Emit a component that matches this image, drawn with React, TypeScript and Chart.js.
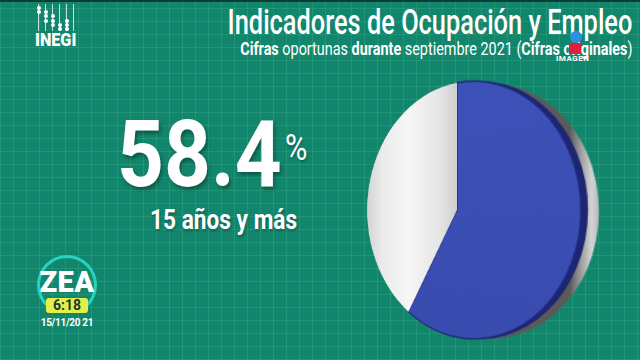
import React, { useEffect, useRef } from "react";
import { Chart, registerables } from "chart.js";

Chart.register(...registerables);

const categories = ["Población económicamente activa", "Población no económicamente activa"];
const shareValues = [58.4, 41.6];
const sliceColors = ["#3c50b6", "#ececec"];
const headline = "58.4";
const ageLabel = "15 años y más";

const rimPlugin = {
  id: "rim3d",
  beforeDatasetsDraw(chart: any) {
    const meta = chart.getDatasetMeta(0);
    const arc0 = meta.data[0] as any;
    if (!arc0) return;
    const { x, y, outerRadius, startAngle, endAngle } = arc0.getProps(
      ["x", "y", "outerRadius", "startAngle", "endAngle"],
      true
    );
    const ctx = chart.ctx as CanvasRenderingContext2D;
    ctx.save();
    const g = ctx.createLinearGradient(x + outerRadius - 10, 0, x + outerRadius + 17, 0);
    g.addColorStop(0, "#5a5a5a");
    g.addColorStop(0.35, "#9a9a9a");
    g.addColorStop(0.7, "#d4d4d4");
    g.addColorStop(1, "#b0b0b0");
    ctx.fillStyle = g;
    ctx.beginPath();
    ctx.arc(x + 19, y + 1, outerRadius - 4, 0, Math.PI * 2);
    ctx.fill();
    ctx.fillStyle = "#1c2672";
    ctx.beginPath();
    ctx.moveTo(x + 7, y);
    ctx.arc(x + 7, y, outerRadius - 1, startAngle, endAngle);
    ctx.closePath();
    ctx.fill();
    ctx.restore();
  },
};

function PieChart() {
  const ref = useRef<HTMLCanvasElement | null>(null);
  useEffect(() => {
    if (!ref.current) return;
    const chart = new Chart(ref.current, {
      type: "pie",
      data: {
        labels: categories,
        datasets: [
          {
            data: shareValues,
            backgroundColor: (c: any) => {
              const ch = c.chart;
              const area = ch.chartArea;
              if (!area) return sliceColors[c.dataIndex];
              const cx = (area.left + area.right) / 2;
              const r = Math.min(area.right - area.left, area.bottom - area.top) / 2;
              if (c.dataIndex === 1) {
                const g = ch.ctx.createLinearGradient(cx - r, 0, cx, 0);
                g.addColorStop(0, "#d2d2d2");
                g.addColorStop(0.2, "#ebebeb");
                g.addColorStop(0.5, "#f6f6f6");
                g.addColorStop(0.82, "#e6e6e6");
                g.addColorStop(1, "#cfcfcf");
                return g;
              }
              const g = ch.ctx.createLinearGradient(0, area.top, 0, area.bottom);
              g.addColorStop(0, "#3d51b9");
              g.addColorStop(1, "#394bae");
              return g;
            },
            borderColor: ["#1d2a7a", "rgba(0,0,0,0)"],
            borderWidth: [1.5, 0],
          },
        ],
      },
      options: {
        responsive: true,
        maintainAspectRatio: false,
        animation: false,
        events: [],
        layout: { padding: 0 },
        plugins: {
          legend: { display: false },
          tooltip: { enabled: false },
        },
      },
      plugins: [rimPlugin],
    });
    return () => chart.destroy();
  }, []);
  return <canvas ref={ref} />;
}

const gridBg =
  "repeating-linear-gradient(0deg, rgba(110,210,160,0.18) 0px, rgba(110,210,160,0.18) 1px, transparent 1px, transparent 13px)," +
  "repeating-linear-gradient(90deg, rgba(110,210,160,0.18) 0px, rgba(110,210,160,0.18) 1px, transparent 1px, transparent 13px)," +
  "#11866c";

const font = "Roboto, 'Noto Sans', sans-serif";

function InegiLogo() {
  const cols = [0, 1, 2, 3, 4, 5];
  const dots: [number, number][] = [
    [0, 0], [0, 1],
    [1, 1], [1, 2], [1, 3],
    [2, 2], [2, 3], [2, 4],
    [3, 4], [3, 5],
    [4, 3], [4, 4], [4, 5],
  ];
  return (
    <div style={{ position: "absolute", left: 35, top: 4, width: 44, height: 48 }}>
      {cols.map((c) => (
        <div
          key={"l" + c}
          style={{
            position: "absolute",
            left: 3 + c * 7,
            top: 0,
            width: 1,
            height: 27,
            background: "rgba(255,255,255,0.75)",
          }}
        />
      ))}
      {dots.map(([c, r], i) => (
        <div
          key={"d" + i}
          style={{
            position: "absolute",
            left: 1.5 + c * 7,
            top: 2 + r * 4.2,
            width: 4,
            height: 4,
            borderRadius: 2,
            background: "#ffffff",
          }}
        />
      ))}
      <div
        style={{
          position: "absolute",
          left: 0,
          top: 27,
          fontFamily: font,
          fontWeight: 900,
          fontSize: 18,
          color: "#fff",
          lineHeight: 1,
          transform: "scaleX(0.9)",
          transformOrigin: "left top",
        }}
      >
        INEGI
      </div>
    </div>
  );
}

export default function App() {
  return (
    <div
      style={{
        position: "fixed",
        left: 0,
        top: 0,
        width: 640,
        height: 360,
        overflow: "hidden",
        background: gridBg,
        fontFamily: font,
      }}
    >
      <div style={{ position: "absolute", left: 0, top: 0, width: 640, height: 2, background: "#0b3d33" }} />
      <InegiLogo />
      <div
        style={{
          position: "absolute",
          right: 8,
          top: 5,
          fontSize: 35,
          fontWeight: 500,
          color: "#fff",
          lineHeight: 1,
          whiteSpace: "nowrap",
          transform: "scaleX(0.725)",
          transformOrigin: "right top",
        }}
      >
        Indicadores de Ocupación y Empleo
      </div>
      <div
        style={{
          position: "absolute",
          right: 8,
          top: 39,
          fontSize: 19,
          fontWeight: 400,
          color: "#fff",
          lineHeight: 1,
          whiteSpace: "nowrap",
          transform: "scaleX(0.758)",
          transformOrigin: "right top",
        }}
      >
        <b>Cifras</b> oportunas <b>durante</b> septiembre 2021 (<b>Cifras originales</b>)
      </div>
      {/* Imagen logo */}
      <div style={{ position: "absolute", left: 570, top: 31, width: 12, height: 12, borderRadius: 6, background: "#2f8fe0" }} />
      <div style={{ position: "absolute", left: 569, top: 43, width: 12, height: 11, background: "#e0203a" }} />
      <div
        style={{
          position: "absolute",
          left: 556,
          top: 55,
          fontSize: 8,
          fontWeight: 700,
          color: "#fff",
          letterSpacing: 0.5,
          lineHeight: 1,
        }}
      >
        IMAGEN
      </div>

      <div
        style={{
          position: "absolute",
          left: 117,
          top: 108,
          fontSize: 93,
          fontWeight: 700,
          color: "#fff",
          lineHeight: 1,
          whiteSpace: "nowrap",
          transform: "scaleX(0.88)",
          transformOrigin: "left top",
          textShadow: "2px 3px 4px rgba(0,0,0,0.35)",
        }}
      >
        {headline}
      </div>
      <div
        style={{
          position: "absolute",
          left: 285,
          top: 130,
          fontSize: 36,
          fontWeight: 400,
          color: "#fff",
          lineHeight: 1,
          transform: "scaleX(0.85)",
          transformOrigin: "left top",
          textShadow: "1px 2px 3px rgba(0,0,0,0.3)",
        }}
      >
        %
      </div>
      <div
        style={{
          position: "absolute",
          left: 150,
          top: 207,
          fontSize: 27,
          fontWeight: 700,
          color: "#fff",
          lineHeight: 1,
          whiteSpace: "nowrap",
          transform: "scaleX(0.84)",
          transformOrigin: "left top",
          textShadow: "1px 2px 3px rgba(0,0,0,0.3)",
        }}
      >
        {ageLabel}
      </div>

      <div
        style={{
          position: "absolute",
          left: 307,
          top: 82,
          width: 300,
          height: 256,
          transform: "perspective(456px) rotateY(-35deg)",
          transformOrigin: "150px 128px",
        }}
      >
        <PieChart />
      </div>

      {/* ZEA logo */}
      <div
        style={{
          position: "absolute",
          left: 37,
          top: 255,
          width: 54,
          height: 54,
          borderRadius: 30,
          border: "3px solid #27d3c0",
          borderBottomColor: "transparent",
        }}
      />
      <div
        style={{
          position: "absolute",
          left: 37,
          top: 268,
          width: 60,
          textAlign: "center",
          fontSize: 29,
          fontWeight: 900,
          color: "#fff",
          lineHeight: 1,
          letterSpacing: 0.5,
        }}
      >
        ZEA
      </div>
      <div
        style={{
          position: "absolute",
          left: 46,
          top: 298,
          width: 42,
          height: 15,
          borderRadius: 3,
          background: "#e4ee48",
          color: "#163a30",
          fontSize: 14,
          fontWeight: 700,
          lineHeight: "15px",
          textAlign: "center",
        }}
      >
        6:18
      </div>
      <div
        style={{
          position: "absolute",
          left: 37,
          top: 318,
          width: 60,
          textAlign: "center",
          fontSize: 10,
          fontWeight: 700,
          color: "#fff",
          lineHeight: 1,
          letterSpacing: -0.3,
        }}
      >
        15/11/20 21
      </div>
    </div>
  );
}
